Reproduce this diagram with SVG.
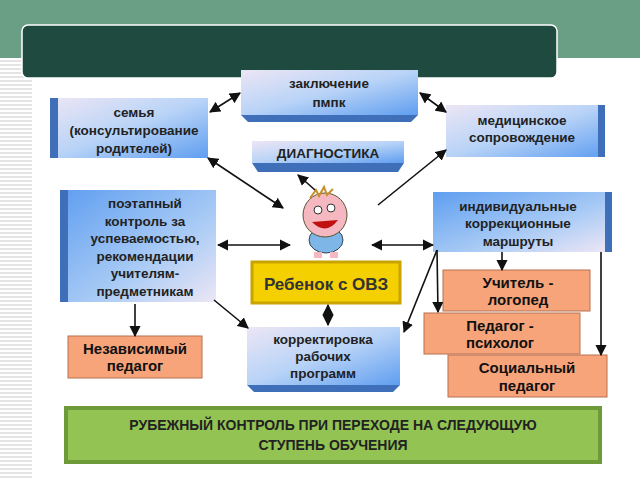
<svg xmlns="http://www.w3.org/2000/svg" width="640" height="480" viewBox="0 0 640 480">
<defs>
<linearGradient id="bl" x1="0" y1="0" x2="1" y2="1"><stop offset="0" stop-color="#5f9ef0"/><stop offset="0.6" stop-color="#a9cbf5"/><stop offset="1" stop-color="#ece6f5"/></linearGradient>
<linearGradient id="bl2" x1="0" y1="0" x2="1" y2="1"><stop offset="0" stop-color="#ece6f5"/><stop offset="0.5" stop-color="#b8d3f7"/><stop offset="1" stop-color="#5f9ef0"/></linearGradient>
<pattern id="str" width="4" height="4" patternUnits="userSpaceOnUse"><rect width="4" height="2" fill="#e4e4e4"/></pattern>
<marker id="a" viewBox="0 0 10 10" refX="9" refY="5" markerWidth="7" markerHeight="7" orient="auto-start-reverse"><path d="M0,0L10,5L0,10z" fill="#111"/></marker>
</defs>
<style>
.t{font-family:"Liberation Sans",Arial,sans-serif;font-weight:bold;font-size:13.5px;fill:#222;text-anchor:middle}
.o{font-family:"Liberation Sans",Arial,sans-serif;font-weight:bold;font-size:15px;fill:#111;text-anchor:middle}
.bev{fill:#3e6fb8}
.or{fill:#f8a47a;stroke:#b87050;stroke-width:1}
.c{stroke:#111;stroke-width:1.6;fill:none}
</style>
<rect width="640" height="480" fill="#fff"/>
<rect x="0" y="0" width="640" height="58" fill="#6a9e85"/>
<rect x="0" y="58" width="32" height="422" fill="url(#str)"/>
<rect x="22" y="25" width="535" height="53" rx="6" fill="#1f4a40" stroke="#fff" stroke-width="1.5"/>

<g id="zakl"><rect x="241" y="70" width="177" height="45" fill="url(#bl2)"/><path class="bev" d="M241,115H418L411,122H248z"/><text class="t" x="329" y="88">заключение</text><text class="t" x="329" y="107">пмпк</text></g>
<g id="semya"><rect x="50" y="98" width="158" height="60" fill="url(#bl2)"/><rect class="bev" x="50" y="98" width="8" height="60"/><text class="t" x="134" y="117">семья</text><text class="t" x="134" y="135">(консультирование</text><text class="t" x="134" y="153">родителей)</text></g>
<g id="med"><rect x="446" y="105" width="159" height="52" fill="url(#bl2)"/><rect class="bev" x="598" y="105" width="7" height="52"/><text class="t" x="522" y="125">медицинское</text><text class="t" x="522" y="142">сопровождение</text></g>
<g id="diag"><rect x="252" y="141" width="152" height="22" fill="url(#bl2)"/><path class="bev" d="M252,163H404L398,172H258z"/><text class="t" x="328" y="158">ДИАГНОСТИКА</text></g>
<g id="poet"><rect x="60" y="190" width="156" height="112" fill="url(#bl)"/><rect class="bev" x="60" y="190" width="8" height="112"/><text class="t" x="145" y="208">поэтапный</text><text class="t" x="145" y="226">контроль за</text><text class="t" x="145" y="243">успеваемостью,</text><text class="t" x="145" y="261">рекомендации</text><text class="t" x="145" y="278">учителям-</text><text class="t" x="145" y="296">предметникам</text></g>
<g id="ind"><rect x="433" y="192" width="172" height="60" fill="url(#bl)"/><rect class="bev" x="605" y="192" width="7" height="60"/><text class="t" x="518" y="211">индивидуальные</text><text class="t" x="518" y="228">коррекционные</text><text class="t" x="518" y="246">маршруты</text></g>
<g id="child"><ellipse cx="326" cy="240" rx="17" ry="13" fill="#7fb6e8" stroke="#345" stroke-width="1"/><circle cx="325" cy="215" r="22" fill="#f6b8c0" stroke="#553" stroke-width="1"/><path d="M310,198l6,-8l3,6l5,-9l3,8l6,-6" fill="none" stroke="#c8902a" stroke-width="2"/><circle cx="318" cy="210" r="4" fill="#fff" stroke="#333"/><circle cx="331" cy="208" r="4" fill="#fff" stroke="#333"/><path d="M312,222q14,14 26,-2z" fill="#c01010"/><rect x="314" y="252" width="8" height="6" fill="#f6b8c0"/><rect x="330" y="252" width="8" height="6" fill="#f6b8c0"/></g>
<g id="reb"><rect x="252" y="262" width="148" height="41" fill="#f5d000" stroke="#c9a300" stroke-width="3"/><text x="326" y="290" style="font-family:'Liberation Sans',Arial,sans-serif;font-weight:bold;font-size:17px;fill:#333;text-anchor:middle">Ребенок  с ОВЗ</text></g>
<g id="korr"><rect x="247" y="327" width="153" height="58" fill="url(#bl2)"/><path class="bev" d="M247,385H400L393,392H254z"/><text class="t" x="323" y="344">корректировка</text><text class="t" x="323" y="361">рабочих</text><text class="t" x="323" y="378">программ</text></g>
<g id="nez"><rect class="or" x="68" y="336" width="134" height="42"/><text class="o" x="135" y="354">Независимый</text><text class="o" x="135" y="371">педагог</text></g>
<g id="log"><rect class="or" x="443" y="270" width="147" height="41"/><text class="o" x="518" y="288">Учитель -</text><text class="o" x="518" y="305">логопед</text></g>
<g id="psy"><rect class="or" x="424" y="313" width="156" height="41"/><text class="o" x="500" y="331">Педагог -</text><text class="o" x="500" y="348">психолог</text></g>
<g id="soc"><rect class="or" x="448" y="355" width="159" height="42"/><text class="o" x="527" y="373">Социальный</text><text class="o" x="527" y="391">педагог</text></g>
<g id="rub"><rect x="66" y="408" width="534" height="54" fill="#92c353" stroke="#6f9a3a" stroke-width="4"/><text x="333" y="430" style="font-family:'Liberation Sans Narrow','Liberation Sans',sans-serif;font-size:14px;font-weight:bold;fill:#222;text-anchor:middle">РУБЕЖНЫЙ КОНТРОЛЬ  ПРИ ПЕРЕХОДЕ НА СЛЕДУЮЩУЮ</text><text x="333" y="450" style="font-family:'Liberation Sans Narrow','Liberation Sans',sans-serif;font-size:14px;font-weight:bold;fill:#222;text-anchor:middle">СТУПЕНЬ ОБУЧЕНИЯ</text></g>

<g id="connectors" class="c">
<line x1="210" y1="112" x2="240" y2="93" marker-start="url(#a)" marker-end="url(#a)"/>
<line x1="420" y1="93" x2="446" y2="112" marker-start="url(#a)" marker-end="url(#a)"/>
<line x1="283" y1="208" x2="208" y2="158" marker-start="url(#a)" marker-end="url(#a)"/>
<line x1="315" y1="190" x2="298" y2="175" marker-end="url(#a)"/>
<line x1="378" y1="205" x2="446" y2="150" marker-end="url(#a)"/>
<line x1="218" y1="245" x2="290" y2="245" marker-start="url(#a)" marker-end="url(#a)"/>
<line x1="372" y1="245" x2="433" y2="245" marker-start="url(#a)" marker-end="url(#a)"/>
<line x1="328" y1="305" x2="328" y2="325" marker-start="url(#a)" marker-end="url(#a)"/>
<line x1="214" y1="300" x2="248" y2="328" marker-end="url(#a)"/>
<line x1="135" y1="304" x2="135" y2="336" marker-end="url(#a)"/>
<line x1="437" y1="250" x2="404" y2="332" marker-end="url(#a)"/>
<line x1="437" y1="250" x2="438" y2="312" marker-end="url(#a)"/>
<line x1="502" y1="252" x2="502" y2="270" marker-end="url(#a)"/>
<line x1="601" y1="252" x2="601" y2="355" marker-end="url(#a)"/>
</g>
</svg>
